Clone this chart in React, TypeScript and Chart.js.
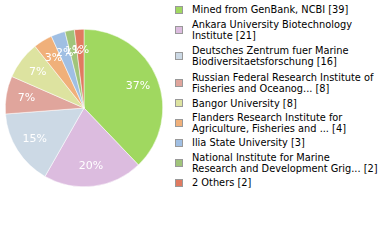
import React, { useEffect, useRef } from "react";
import { Chart, registerables } from "chart.js";

Chart.register(...registerables);

const categories: string[] = [
  "Mined from GenBank, NCBI",
  "Ankara University Biotechnology\nInstitute",
  "Deutsches Zentrum fuer Marine\nBiodiversitaetsforschung",
  "Russian Federal Research Institute of\nFisheries and Oceanog...",
  "Bangor University",
  "Flanders Research Institute for\nAgriculture, Fisheries and ...",
  "Ilia State University",
  "National Institute for Marine\nResearch and Development Grig...",
  "2 Others",
];
const counts: number[] = [39, 21, 16, 8, 8, 4, 3, 2, 2];
const colors: string[] = [
  "#a0d860",
  "#dcbcdf",
  "#ccd9e5",
  "#e0a59c",
  "#dde3a0",
  "#f0b07a",
  "#a0bfe3",
  "#a0c47a",
  "#e07a60",
];

const total = counts.reduce((a, b) => a + b, 0);

const labelPlugin = {
  id: "pctLabels",
  afterDatasetsDraw(chart: any) {
    const ctx = chart.ctx;
    const meta = chart.getDatasetMeta(0);
    ctx.save();
    ctx.fillStyle = "#ffffff";
    ctx.font = "11px 'DejaVu Sans'";
    ctx.textAlign = "center";
    ctx.textBaseline = "middle";
    meta.data.forEach((arc: any, i: number) => {
      const p = arc.getProps(["x", "y", "startAngle", "endAngle", "outerRadius"], true);
      const mid = (p.startAngle + p.endAngle) / 2;
      const r = p.outerRadius * 0.74;
      const pct = Math.floor((counts[i] / total) * 100) + "%";
      ctx.fillText(pct, p.x + Math.cos(mid) * r, p.y + Math.sin(mid) * r);
    });
    ctx.restore();
  },
};

export default function App() {
  const ref = useRef<HTMLCanvasElement | null>(null);
  useEffect(() => {
    if (!ref.current) return;
    const chart = new Chart(ref.current, {
      type: "pie",
      data: {
        labels: categories,
        datasets: [
          {
            data: counts,
            backgroundColor: colors,
            borderColor: "#ffffff",
            borderWidth: 0.5,
          },
        ],
      },
      options: {
        animation: false,
        responsive: false,
        layout: { padding: { left: 5, right: 5, top: 0, bottom: 0 } },
        plugins: { legend: { display: false }, tooltip: { enabled: false } },
      },
      plugins: [labelPlugin],
    });
    return () => chart.destroy();
  }, []);

  return (
    <div
      style={{
        position: "fixed",
        left: 0,
        top: 0,
        width: 380,
        height: 240,
        background: "#fff",
        fontFamily: "'DejaVu Sans', sans-serif",
      }}
    >
      <canvas
        ref={ref}
        width={168}
        height={216}
        style={{ position: "absolute", left: 0, top: 0, width: 168, height: 216 }}
      />
      <div style={{ position: "absolute", left: 175, top: 3.3, width: 205 }}>
        {categories.map((c, i) => {
          const lines = c.split("\n");
          return (
            <div
              key={i}
              style={{
                height: lines.length * 13.3,
                display: "flex",
                alignItems: "center",
              }}
            >
              <div
                style={{
                  width: 6,
                  height: 6,
                  background: colors[i],
                  border: "1px solid #999",
                  flex: "none",
                }}
              />
              <div
                style={{
                  marginLeft: 9,
                  fontSize: 9.8,
                  lineHeight: "11px",
                  color: "#000",
                  whiteSpace: "pre",
                }}
              >
                {lines.map((l, j) => (
                  <div key={j}>
                    {l}
                    {j === lines.length - 1 ? ` [${counts[i]}]` : ""}
                  </div>
                ))}
              </div>
            </div>
          );
        })}
      </div>
    </div>
  );
}
